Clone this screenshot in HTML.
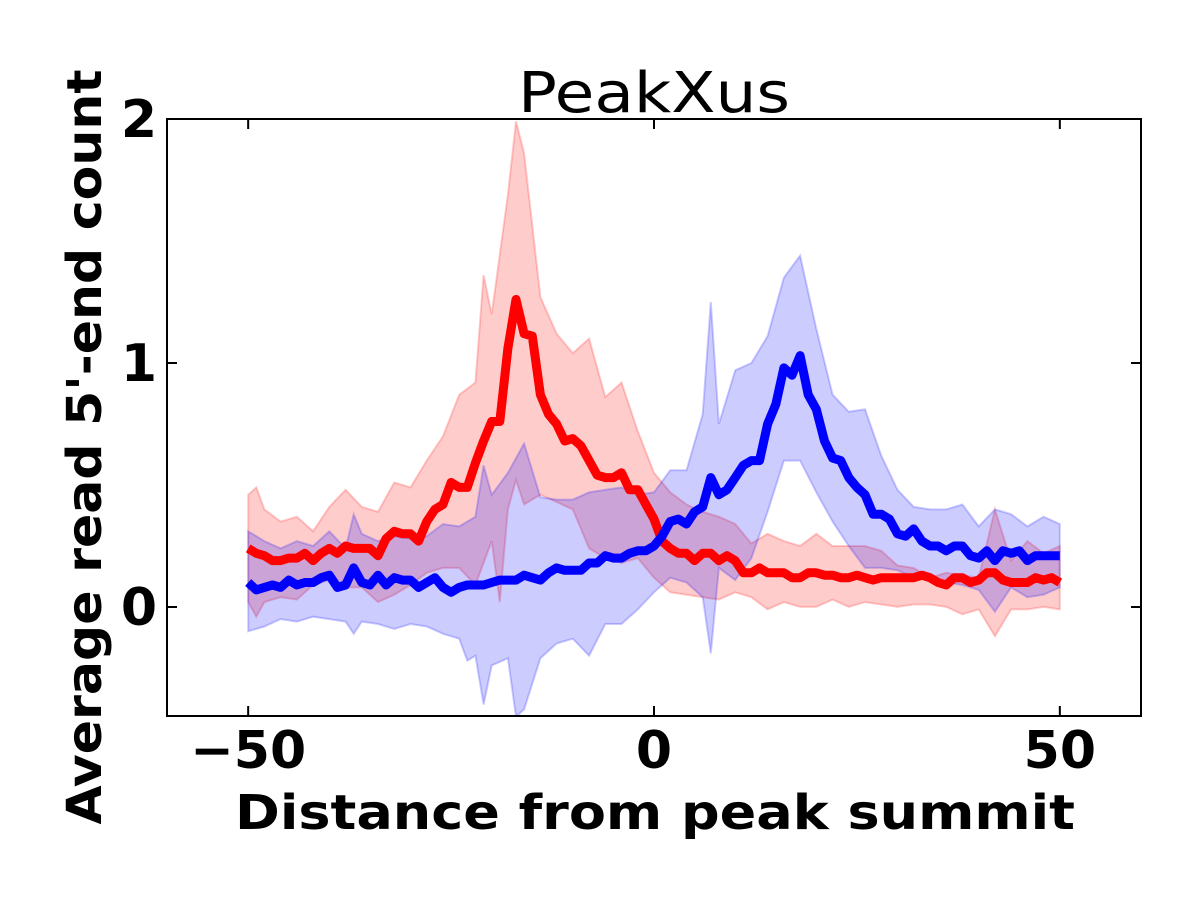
<!DOCTYPE html>
<html><head><meta charset="utf-8"><style>
html,body{margin:0;padding:0;background:#fff;}
svg{display:block;font-family:"DejaVu Sans","Liberation Sans",sans-serif;}
</style></head><body>
<svg id="chart" width="1200" height="900" viewBox="0 0 1200 900" xmlns="http://www.w3.org/2000/svg">
<rect width="1200" height="900" fill="#fff"/>
<g id="plot"></g>
<text x="654" y="112" text-anchor="middle" font-size="56" textLength="272" lengthAdjust="spacingAndGlyphs">PeakXus</text>
<text x="655" y="829" text-anchor="middle" font-size="48" font-weight="bold" textLength="840" lengthAdjust="spacingAndGlyphs">Distance from peak summit</text>
<text transform="translate(101,447) rotate(-90)" text-anchor="middle" font-size="48" font-weight="bold" textLength="755" lengthAdjust="spacingAndGlyphs">Average read 5'-end count</text>
</svg>
<script>
const meanX = [];
for (let i = -50; i <= 50; i++) meanX.push(i);
const redMean = [0.24,0.22,0.21,0.19,0.19,0.20,0.20,0.22,0.19,0.22,0.24,0.22,0.25,0.24,0.24,0.24,0.21,0.28,0.31,0.30,0.30,0.27,0.35,0.40,0.42,0.51,0.49,0.49,0.59,0.68,0.76,0.76,1.06,1.26,1.12,1.11,0.87,0.79,0.75,0.68,0.69,0.66,0.60,0.54,0.53,0.53,0.55,0.48,0.48,0.42,0.36,
0.27,0.24,0.22,0.22,0.19,0.22,0.22,0.19,0.21,0.19,0.14,0.14,0.16,0.14,0.14,0.14,0.12,0.12,0.14,0.14,0.13,0.13,0.12,0.12,0.13,0.12,0.11,0.12,0.12,0.12,0.12,0.12,0.13,0.12,0.10,0.09,0.12,0.12,0.10,0.11,0.14,0.14,0.11,0.10,0.10,0.10,0.12,0.11,0.12,0.10];
const blueMean = [0.10,0.07,0.08,0.09,0.08,0.11,0.09,0.10,0.10,0.12,0.13,0.08,0.09,0.16,0.10,0.09,0.13,0.09,0.12,0.11,0.11,0.08,0.10,0.12,0.08,0.06,0.08,0.09,0.09,0.09,0.10,0.11,0.11,0.11,0.13,0.12,0.11,0.14,0.16,0.15,0.15,0.15,0.18,0.18,0.21,0.20,0.20,0.22,0.23,0.23,0.25,
0.29,0.35,0.36,0.34,0.39,0.41,0.53,0.46,0.48,0.53,0.58,0.60,0.60,0.75,0.83,0.98,0.95,1.03,0.87,0.81,0.68,0.61,0.60,0.53,0.49,0.46,0.38,0.38,0.36,0.30,0.29,0.32,0.27,0.25,0.25,0.23,0.25,0.25,0.21,0.20,0.23,0.19,0.23,0.22,0.23,0.19,0.21,0.21,0.21,0.21];
const evenX = [0,2,4,6,8,10,12,14,16,18,20,22,24,26,28,30,32,34,36,38,40,42,44,46,48,50];
const redUpX = [-50,-49,-48,-46,-44,-42,-40,-38,-36,-34,-32,-30,-28,-26,-24,-22,-21,-20,-18,-17,-16,-14,-12,-10,-8,-6,-4,-2].concat(evenX);
const redUp = [0.46,0.49,0.40,0.35,0.37,0.31,0.41,0.48,0.41,0.39,0.51,0.49,0.60,0.70,0.87,0.92,1.36,1.20,1.69,1.99,1.86,1.27,1.12,1.04,1.10,0.86,0.92,0.72,
0.55,0.47,0.42,0.39,0.37,0.34,0.26,0.30,0.27,0.25,0.30,0.25,0.25,0.25,0.23,0.17,0.16,0.12,0.14,0.13,0.12,0.40,0.19,0.27,0.22,0.25];
const redLoX = [-50,-49,-48,-46,-44,-42,-40,-38,-36,-34,-32,-30,-28,-26,-24,-22,-20,-19,-18,-17,-16,-14,-12,-10,-8,-6,-4,-2].concat(evenX);
const redLo = [0.02,-0.04,0.02,0.04,0.03,0.09,0.11,0.08,0.08,0.02,0.05,0.09,0.14,0.16,0.16,0.09,0.27,0.02,0.40,0.52,0.42,0.46,0.43,0.40,0.24,0.20,0.18,0.20,
0.12,0.06,0.05,0.04,0.03,0.06,0.04,-0.01,0.02,0.00,0.00,0.03,0.00,0.02,0.01,0.00,0.01,0.01,0.00,-0.03,-0.01,-0.12,-0.01,-0.01,0.00,-0.01];
const blueUpX = [-50,-48,-46,-44,-42,-40,-38,-37,-36,-34,-32,-30,-28,-26,-24,-22,-21,-20,-18,-16,-14,-12,-10,-8,-6,-4,-2,0,2,4,6,7,8,10,12,14,16,18,20,22,24,26,28,30,32,34,36,38,40,42,44,46,48,50];
const blueUp = [0.31,0.27,0.24,0.27,0.25,0.31,0.24,0.38,0.30,0.27,0.29,0.28,0.29,0.34,0.33,0.37,0.58,0.46,0.55,0.67,0.45,0.44,0.44,0.47,0.48,0.49,0.46,0.47,0.56,0.56,0.79,1.25,0.75,0.97,1.00,1.11,1.35,1.44,1.14,0.87,0.80,0.81,0.62,0.48,0.41,0.40,0.40,0.42,0.33,0.40,0.38,0.33,0.37,0.34];
const blueLoX = [-50,-48,-46,-44,-42,-40,-38,-37,-36,-34,-32,-30,-28,-26,-24,-23,-22,-21,-20,-18,-17,-16,-14,-12,-10,-8,-6,-4,-2,0,2,4,6,7,8,10,12,14,16,18,20,22,24,26,28,30,32,34,36,38,40,42,44,46,48,50];
const blueLo = [-0.10,-0.08,-0.05,-0.06,-0.04,-0.05,-0.06,-0.11,-0.06,-0.07,-0.09,-0.07,-0.08,-0.11,-0.13,-0.22,-0.20,-0.40,-0.24,-0.21,-0.45,-0.42,-0.21,-0.15,-0.13,-0.20,-0.07,-0.07,-0.01,0.06,0.12,0.10,0.04,-0.19,0.16,0.11,0.20,0.39,0.60,0.60,0.47,0.35,0.25,0.16,0.16,0.15,0.12,0.11,0.10,0.09,0.07,-0.02,0.08,0.04,0.05,0.08];
const xTicks = [-50, 0, 50];
const xTickLabels = ["\u221250", "0", "50"];
const yTicks = [0, 1, 2];
const yTickLabels = ["0", "1", "2"];

const L = 167, R = 1141, T = 119, B = 716;
const xMin = -60, xMax = 60, yMin = -0.447, yMax = 2;
const sx = v => L + (v - xMin) / (xMax - xMin) * (R - L);
const sy = v => B - (v - yMin) / (yMax - yMin) * (B - T);
const NS = "http://www.w3.org/2000/svg";
const g = document.getElementById('plot');
function mk(tag, attrs) { const e = document.createElementNS(NS, tag); for (const k in attrs) e.setAttribute(k, attrs[k]); g.appendChild(e); return e; }
function linePts(xs, ys) { return xs.map((x, i) => sx(x).toFixed(1) + ',' + sy(ys[i]).toFixed(1)); }
function bandPath(ux, uy, lx, ly) {
  const up = linePts(ux, uy);
  const lo = linePts(lx, ly).reverse();
  return 'M' + up.join('L') + 'L' + lo.join('L') + 'Z';
}
const clip = document.createElementNS(NS, 'clipPath'); clip.setAttribute('id', 'pc');
const cr = document.createElementNS(NS, 'rect'); cr.setAttribute('x', L); cr.setAttribute('y', T); cr.setAttribute('width', R - L); cr.setAttribute('height', B - T);
clip.appendChild(cr); g.appendChild(clip);
const rb = mk('path', { d: bandPath(redUpX, redUp, redLoX, redLo), fill: 'rgba(255,0,0,0.2)', stroke: 'rgba(255,0,0,0.2)', 'stroke-width': 2, 'clip-path': 'url(#pc)' });


const bb = mk('path', { d: bandPath(blueUpX, blueUp, blueLoX, blueLo), fill: 'rgba(0,0,255,0.2)', stroke: 'rgba(0,0,255,0.2)', 'stroke-width': 2, 'clip-path': 'url(#pc)' });


const rl = mk('polyline', { points: linePts(meanX, redMean).join(' '), fill: 'none', stroke: '#ff0000', 'stroke-width': 9, 'stroke-linejoin': 'round' });


const bl = mk('polyline', { points: linePts(meanX, blueMean).join(' '), fill: 'none', stroke: '#0000ff', 'stroke-width': 9, 'stroke-linejoin': 'round' });


const fr = mk('rect', { x: L, y: T, width: R - L, height: B - T, fill: 'none', stroke: '#000', 'stroke-width': 2 });


xTicks.forEach((t, i) => {
  const x = sx(t);
  const a = mk('path', { d: `M${x},${B}V${B-10}M${x},${T}V${T+10}`, stroke: '#000', 'stroke-width': 2 });
  
  
  const tx = mk('text', { x: x, y: 768, 'text-anchor': 'middle', 'font-size': 52, 'font-weight': 'bold' });
  tx.textContent = xTickLabels[i];
  
  
});
yTicks.forEach((t, i) => {
  const y = sy(t);
  const a = mk('path', { d: `M${L},${y}H${L+10}M${R},${y}H${R-10}`, stroke: '#000', 'stroke-width': 2 });
  
  
  const tx = mk('text', { x: 157, y: y + 18, 'text-anchor': 'end', 'font-size': 52, 'font-weight': 'bold' });
  tx.textContent = yTickLabels[i];
  
  
});
</script>
</body></html>
